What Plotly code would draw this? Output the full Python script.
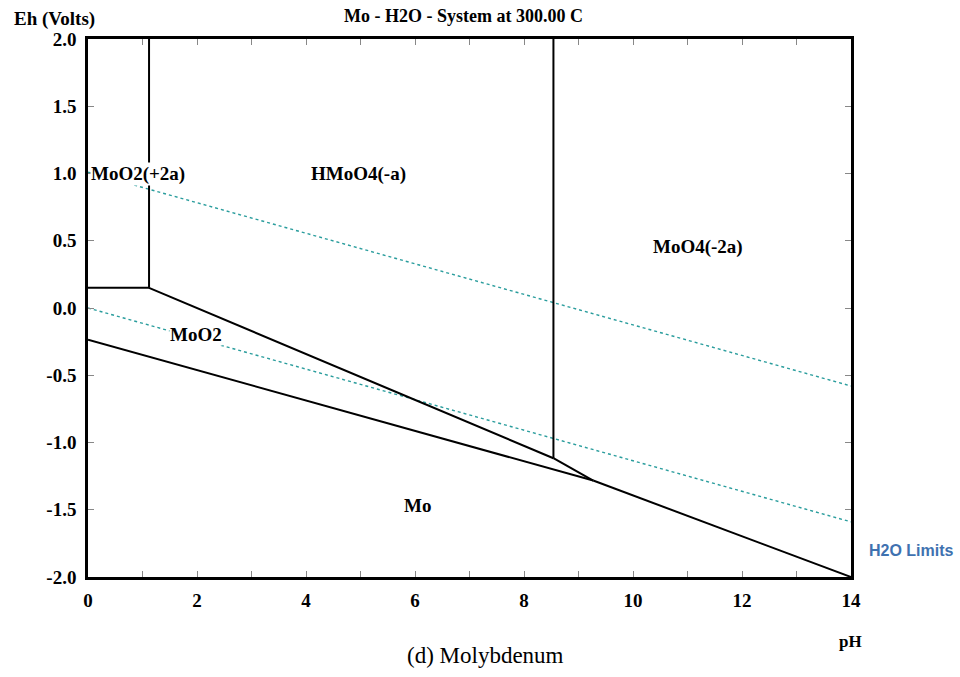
import plotly.graph_objects as go

# Axis ranges / ticks
ph_ticks = [0, 2, 4, 6, 8, 10, 12, 14]
eh_ticks = [2.0, 1.5, 1.0, 0.5, 0.0, -0.5, -1.0, -1.5, -2.0]
eh_tick_labels = ["2.0", "1.5", "1.0", "0.5", "0.0", "-0.5", "-1.0", "-1.5", "-2.0"]

# Stability-field boundaries (pH, Eh)
b1_ph = [0.0, 1.12];   b1_eh = [0.15, 0.15]       # MoO2(+2a) / MoO2
b2_ph = [1.12, 1.12];  b2_eh = [0.15, 2.0]        # MoO2(+2a) / HMoO4(-a)
b3_ph = [1.12, 8.54];  b3_eh = [0.15, -1.117]     # MoO2 / HMoO4(-a)
b4_ph = [8.54, 8.54];  b4_eh = [-1.117, 2.0]      # HMoO4(-a) / MoO4(-2a)
b5_ph = [8.54, 9.27];  b5_eh = [-1.117, -1.283]   # MoO2 / MoO4(-2a)
b6_ph = [0.0, 9.27];   b6_eh = [-0.235, -1.283]   # Mo / MoO2
b7_ph = [9.27, 14.0];  b7_eh = [-1.283, -2.0]     # Mo / MoO4(-2a)

# Water stability limits
h2o_up_ph = [0.0, 14.0]; h2o_up_eh = [1.01, -0.58]
h2o_lo_ph = [0.0, 14.0]; h2o_lo_eh = [0.0, -1.59]

# Field labels (pH, Eh)
field_names = ["MoO2(+2a)", "HMoO4(-a)", "MoO4(-2a)", "MoO2", "Mo"]
field_ph = [0.04, 4.96, 11.2, 1.98, 6.05]
field_eh = [1.0, 1.0, 0.45, -0.2, -1.47]

fig = go.Figure()

for xs, ys in [(h2o_up_ph, h2o_up_eh), (h2o_lo_ph, h2o_lo_eh)]:
    fig.add_trace(go.Scatter(x=xs, y=ys, mode="lines",
                             line=dict(color="#2a9d9d", width=1.4, dash="dot"),
                             showlegend=False, hoverinfo="skip"))

for xs, ys in [(b1_ph, b1_eh), (b2_ph, b2_eh), (b3_ph, b3_eh), (b4_ph, b4_eh),
               (b5_ph, b5_eh), (b6_ph, b6_eh), (b7_ph, b7_eh)]:
    fig.add_trace(go.Scatter(x=xs, y=ys, mode="lines",
                             line=dict(color="black", width=2),
                             showlegend=False, hoverinfo="skip"))

serif = "Liberation Serif"
for name, px, py in zip(field_names, field_ph, field_eh):
    anchor = "left" if name == "MoO2(+2a)" else "center"
    fig.add_annotation(x=px, y=py, text="<b>%s</b>" % name, showarrow=False,
                       xanchor=anchor, yanchor="middle",
                       font=dict(family=serif, size=19, color="black"),
                       bgcolor="white", borderpad=0)

W, H = 960, 677
L, R, T, B = 88, 851, 38.5, 577.3
pw, ph = R - L, B - T

def px2paper(x, y):
    return (x - L) / pw, (B - y) / ph

def add_text(text, x, y, size, family=serif, color="black", xanchor="center"):
    xx, yy = px2paper(x, y)
    fig.add_annotation(xref="paper", yref="paper", x=xx, y=yy, text=text,
                       showarrow=False, xanchor=xanchor, yanchor="middle",
                       font=dict(family=family, size=size, color=color))

add_text("<b>Mo - H2O - System at 300.00 C</b>", 463, 15, 18)
add_text("<b>Eh (Volts)</b>", 12, 18, 19, xanchor="left")
add_text("<b>pH</b>", 850, 642, 17)
add_text("<b>H2O Limits</b>", 867, 551, 16, family="Liberation Sans",
         color="#3f72b0", xanchor="left")
add_text("(d) Molybdenum", 485, 656, 23)

axis_common = dict(showline=True, linecolor="black", linewidth=2.5, mirror="ticks",
                   showgrid=False, zeroline=False, ticks="inside", ticklen=6,
                   tickcolor="#888888", tickwidth=1,
                   tickfont=dict(family=serif, size=19, color="black"))

fig.update_xaxes(range=[0, 14], tickvals=ph_ticks,
                 ticktext=["<b>%d</b>" % v for v in ph_ticks],
                 minor=dict(dtick=1, ticks="inside", ticklen=6, tickcolor="#888888",
                            tickwidth=1),
                 ticklabelstandoff=4, **axis_common)
fig.update_yaxes(range=[-2, 2], tickvals=eh_ticks,
                 ticktext=["<b>%s</b>" % t for t in eh_tick_labels],
                 ticklabelstandoff=5, **axis_common)

fig.update_layout(width=W, height=H, plot_bgcolor="white", paper_bgcolor="white",
                  margin=dict(l=L, r=W - R, t=T, b=H - B, autoexpand=False),
                  showlegend=False)

fig.write_html("out.html", config={"displayModeBar": False},
               post_script="document.body.style.margin='0px';document.body.style.padding='0px';")
